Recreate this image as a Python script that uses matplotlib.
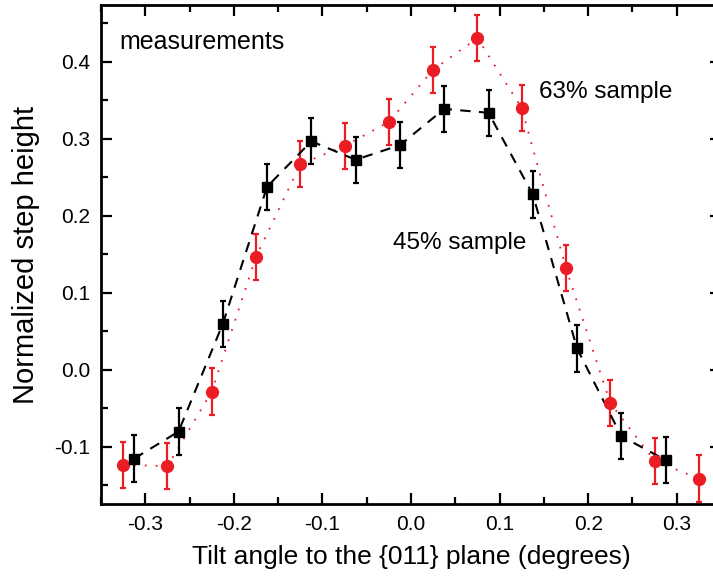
import matplotlib.pyplot as plt
from matplotlib.ticker import MultipleLocator

plt.rcParams['font.family'] = ['Liberation Sans', 'DejaVu Sans']

# 45% sample (black squares)
x45 = [-0.3125, -0.2625, -0.2125, -0.1625, -0.1125, -0.0625, -0.0125,
       0.0375, 0.0875, 0.1375, 0.1875, 0.2375, 0.2875]
y45 = [-0.115, -0.080, 0.060, 0.238, 0.297, 0.273, 0.292,
       0.339, 0.334, 0.228, 0.028, -0.086, -0.117]
err45 = [0.030] * len(x45)

# 63% sample (red circles)
x63 = [-0.325, -0.275, -0.225, -0.175, -0.125, -0.075, -0.025,
       0.025, 0.075, 0.125, 0.175, 0.225, 0.275, 0.325]
y63 = [-0.123, -0.125, -0.028, 0.147, 0.267, 0.291, 0.322,
       0.390, 0.431, 0.340, 0.132, -0.043, -0.118, -0.141]
err63 = [0.030] * len(x63)

red = '#ec1c24'

fig = plt.figure(figsize=(7.13, 5.85), dpi=100)
ax = fig.add_axes([0.1417, 0.1385, 0.8695, 0.853])

ax.plot(x63, y63, color=red, lw=1.3, ls=(0, (1, 5)))
ax.errorbar(x63, y63, yerr=err63, fmt='o', color=red, ms=8.5,
            elinewidth=1.6, capsize=2.5, capthick=1.6)
ax.plot(x45, y45, color='black', lw=1.5, ls=(0, (5, 4)))
ax.errorbar(x45, y45, yerr=err45, fmt='s', color='black', ms=7.5,
            elinewidth=1.6, capsize=2.5, capthick=1.6)

ax.set_xlim(-0.35, 0.35)
ax.set_ylim(-0.174, 0.474)
ax.xaxis.set_major_locator(MultipleLocator(0.1))
ax.xaxis.set_minor_locator(MultipleLocator(0.05))
ax.yaxis.set_major_locator(MultipleLocator(0.1))
ax.yaxis.set_minor_locator(MultipleLocator(0.05))
ax.xaxis.set_major_formatter(lambda v, p: f'{v:.1f}'.replace('-0.0', '0.0'))
ax.yaxis.set_major_formatter(lambda v, p: f'{v:.1f}'.replace('-0.0', '0.0'))
ax.tick_params(which='both', direction='in', top=True, right=True,
               width=1.6, labelsize=15)
ax.tick_params(which='major', length=8, pad=8)
ax.tick_params(which='minor', length=5)
for s in ax.spines.values():
    s.set_linewidth(2)

ax.set_xlabel('Tilt angle to the {011} plane (degrees)', fontsize=19, labelpad=8)
ax.set_ylabel('Normalized step height', fontsize=21, labelpad=10)

ax.text(-0.329, 0.426, 'measurements', fontsize=18, va='center')
ax.text(0.1445, 0.361, '63% sample', fontsize=17.5, va='center')
ax.text(-0.0203, 0.165, '45% sample', fontsize=17.5, va='center')

fig.savefig('out.png', dpi=100)
